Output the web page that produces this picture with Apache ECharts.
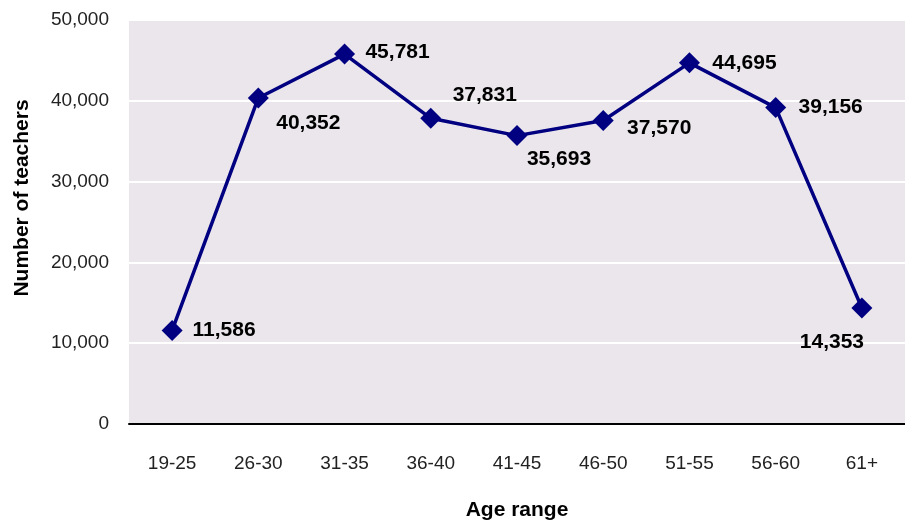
<!DOCTYPE html>
<html>
<head>
<meta charset="utf-8">
<script src="https://cdn.jsdelivr.net/npm/echarts@6/dist/echarts.min.js"></script>
<style>
  html, body { margin: 0; padding: 0; background: #fff; }
  #chart { width: 905px; height: 526px; }
</style>
</head>
<body>
<div id="chart"></div>
<script>
// age bands and teacher counts
const ageRanges = ['19-25', '26-30', '31-35', '36-40', '41-45', '46-50', '51-55', '56-60', '61+']
const teachers = [11586, 40352, 45781, 37831, 35693, 37570, 44695, 39156, 14353]

// where each value label sits relative to its marker (px)
const labelOffsets = [[52, 0], [50, 25], [53, -2], [54, -23], [42, 24], [56, 8], [55, 0], [55, 0], [-30, 34]]

const NAVY = '#000080'
const narrow = '"Liberation Sans Narrow", "Arial Narrow", "Liberation Sans", sans-serif'
const sans = '"Liberation Sans", Arial, sans-serif'

const fmt = v => v.toLocaleString('en-US')

const chart = echarts.init(document.getElementById('chart'))

chart.setOption({
  animation: false,
  grid: {
    left: 129, right: 0, top: 20, bottom: 102,
    show: true, backgroundColor: '#EAE6EB', borderWidth: 0,
  },
  xAxis: {
    type: 'category',
    data: ageRanges,
    name: 'Age range',
    nameLocation: 'middle',
    nameGap: 76,
    nameTextStyle: { fontFamily: sans, fontWeight: 'bold', fontSize: 21, color: '#000' },
    axisLine: { lineStyle: { color: '#000', width: 2 } },
    axisTick: { inside: true, length: 7, lineStyle: { color: '#000', width: 2 } },
    axisLabel: { fontFamily: narrow, fontSize: 19, color: '#222', margin: 30 },
  },
  yAxis: {
    type: 'value',
    min: 0, max: 50000, interval: 10000,
    axisLine: { show: false },
    axisTick: { show: false },
    axisLabel: { fontFamily: narrow, fontSize: 19, color: '#222', margin: 20, formatter: fmt },
    splitLine: { lineStyle: { color: '#fff', width: 2 } },
  },
  graphic: [{
    type: 'text',
    x: 22, y: 198,
    rotation: Math.PI / 2,
    style: {
      text: 'Number of teachers',
      fontFamily: sans, fontWeight: 'bold', fontSize: 21, fill: '#000',
      align: 'center', verticalAlign: 'middle',
    },
  }],
  series: [{
    type: 'line',
    data: teachers.map((v, i) => ({
      value: v,
      label: { offset: labelOffsets[i] },
    })),
    symbol: 'diamond',
    symbolSize: 21,
    itemStyle: { color: NAVY },
    lineStyle: { color: NAVY, width: 3.5 },
    label: {
      show: true,
      position: 'inside',
      formatter: p => fmt(p.value),
      fontFamily: sans, fontWeight: 'bold', fontSize: 21, color: '#000',
    },
  }],
})
</script>
</body>
</html>
